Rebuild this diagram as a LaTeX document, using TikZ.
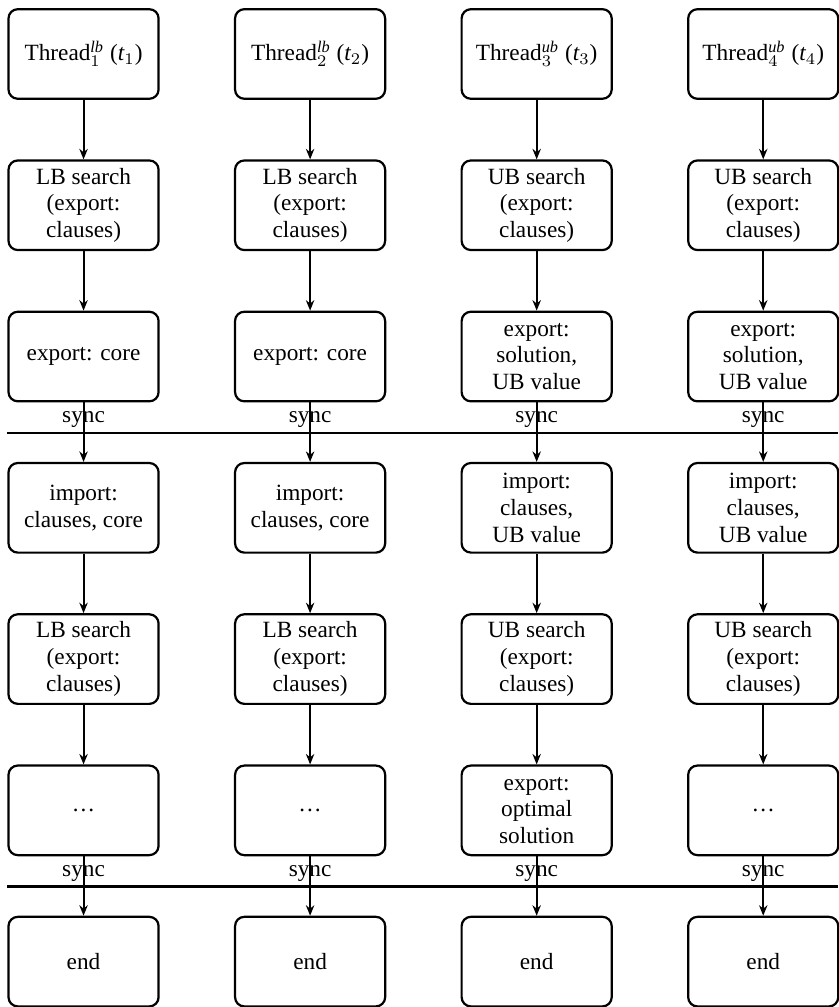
\documentclass[tikz,border=0pt]{standalone}
\usepackage{fontspec}
\setmainfont{Liberation Serif}
\usetikzlibrary{arrows.meta}
\begin{document}
\begin{tikzpicture}[
  x=1pt, y=1pt,
  stage/.style={draw, line width=0.95pt, rounded corners=4pt, minimum width=64.5pt,
    minimum height=38.5pt, align=center, inner sep=1pt,
    font=\fontsize{10}{11.5}\selectfont},
  flow/.style={line width=0.9pt, -{Stealth[length=4.5pt, width=3.6pt]}},
  barrier/.style={line width=0.9pt},
  synclabel/.style={above, inner sep=2pt, font=\fontsize{10}{11.5}\selectfont}
]
\useasboundingbox (0,0) rectangle (360.1,-432.7);

% column centres and row centres
\def\ca{35.9}\def\cb{133.25}\def\cc{230.6}\def\cd{327.95}
\def\ra{-23.2}\def\rb{-88.2}\def\rc{-153.2}\def\rd{-218.2}
\def\re{-283.2}\def\rf{-348.2}\def\rg{-413.2}

% row 1: threads
\node[stage] (a1) at (\ca,\ra) {Thread$^{\mathit{lb}}_1$ ($\mathit{t}_1$)};
\node[stage] (b1) at (\cb,\ra) {Thread$^{\mathit{lb}}_2$ ($\mathit{t}_2$)};
\node[stage] (c1) at (\cc,\ra) {Thread$^{\mathit{ub}}_3$ ($\mathit{t}_3$)};
\node[stage] (d1) at (\cd,\ra) {Thread$^{\mathit{ub}}_4$ ($\mathit{t}_4$)};

% row 2: first search phase
\node[stage] (a2) at (\ca,\rb) {LB search\\(export:\\clauses)};
\node[stage] (b2) at (\cb,\rb) {LB search\\(export:\\clauses)};
\node[stage] (c2) at (\cc,\rb) {UB search\\(export:\\clauses)};
\node[stage] (d2) at (\cd,\rb) {UB search\\(export:\\clauses)};

% row 3: exports before the first sync
\node[stage] (a3) at (\ca,\rc) {export: core};
\node[stage] (b3) at (\cb,\rc) {export: core};
\node[stage] (c3) at (\cc,\rc) {export:\\solution,\\UB value};
\node[stage] (d3) at (\cd,\rc) {export:\\solution,\\UB value};

% row 4: imports after the first sync
\node[stage] (a4) at (\ca,\rd) {import:\\clauses, core};
\node[stage] (b4) at (\cb,\rd) {import:\\clauses, core};
\node[stage] (c4) at (\cc,\rd) {import:\\clauses,\\UB value};
\node[stage] (d4) at (\cd,\rd) {import:\\clauses,\\UB value};

% row 5: second search phase
\node[stage] (a5) at (\ca,\re) {LB search\\(export:\\clauses)};
\node[stage] (b5) at (\cb,\re) {LB search\\(export:\\clauses)};
\node[stage] (c5) at (\cc,\re) {UB search\\(export:\\clauses)};
\node[stage] (d5) at (\cd,\re) {UB search\\(export:\\clauses)};

% row 6
\node[stage] (a6) at (\ca,\rf) {\dots};
\node[stage] (b6) at (\cb,\rf) {\dots};
\node[stage] (c6) at (\cc,\rf) {export:\\optimal\\solution};
\node[stage] (d6) at (\cd,\rf) {\dots};

% row 7: end
\node[stage] (a7) at (\ca,\rg) {end};
\node[stage] (b7) at (\cb,\rg) {end};
\node[stage] (c7) at (\cc,\rg) {end};
\node[stage] (d7) at (\cd,\rg) {end};

% synchronisation barriers
\coordinate (s1) at (0,-185.9);
\coordinate (s2) at (0,-380.9);
\coordinate (s1R) at (360.1,-185.9);
\coordinate (s2R) at (360.1,-380.9);
\draw[barrier] (a3.west |- s1) -- (s1R);
\draw[barrier] (a6.west |- s2) -- (s2R);

\foreach \k in {a,b,c,d}{
  \node[synclabel] at (\k3.south |- s1) {sync};
  \node[synclabel] at (\k6.south |- s2) {sync};
}

% control flow in each thread
\foreach \k in {a,b,c,d}{
  \foreach \i [evaluate=\i as \j using int(\i+1)] in {1,...,6}{
    \draw[flow] (\k\i.south) -- (\k\j.north);
  }
}
\end{tikzpicture}
\end{document}
